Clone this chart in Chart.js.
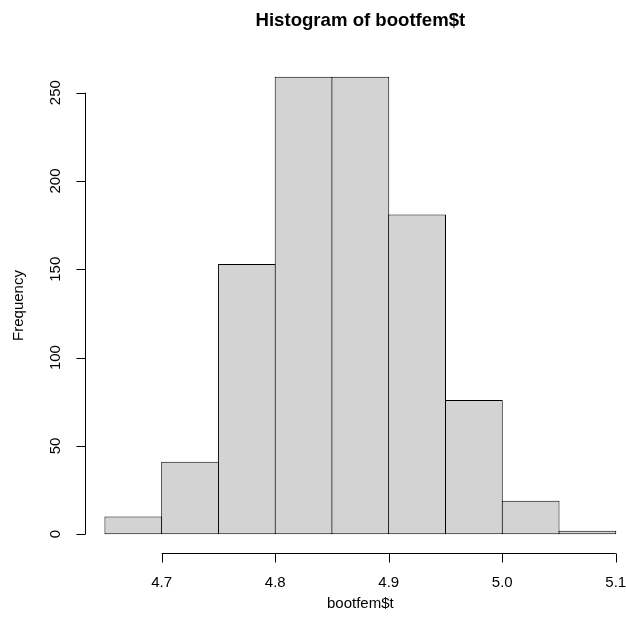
<!DOCTYPE html>
<html lang="en">
<head>
    <meta charset="UTF-8">
    <title>Histogram of bootfem$t</title>
    <script src="https://cdn.jsdelivr.net/npm/chart.js"></script>
    <style>
        html, body { margin: 0; padding: 0; background: #fff; }
        canvas { display: block; }
    </style>
</head>
<body>
    <canvas id="histChart" width="626" height="628"></canvas>

    <script>
        // bins of width 0.05 from 4.65 to 5.10
        var binStarts = [4.65, 4.70, 4.75, 4.80, 4.85, 4.90, 4.95, 5.00, 5.05];
        var binWidth = 0.05;
        var counts = [10, 41, 153, 259, 259, 181, 76, 19, 2];
        var xTicks = [4.7, 4.8, 4.9, 5.0, 5.1];
        var yTicks = [0, 50, 100, 150, 200, 250];

        var mainTitle = 'Histogram of bootfem$t';
        var xTitle = 'bootfem$t';
        var yTitle = 'Frequency';

        var points = binStarts.map(function (s, i) {
            return { x: s + binWidth / 2, y: counts[i] };
        });

        // R style axes, title and labels drawn from the chart scales
        var rAxes = {
            id: 'rAxes',
            afterDraw: function (chart) {
                var ctx = chart.ctx;
                var xs = chart.scales.x;
                var ys = chart.scales.y;
                var area = chart.chartArea;
                ctx.save();
                ctx.strokeStyle = '#000';
                ctx.fillStyle = '#000';
                ctx.lineWidth = 1;

                // x axis
                var xb = Math.round(area.bottom) + 0.5;
                ctx.beginPath();
                ctx.moveTo(xs.getPixelForValue(xTicks[0]), xb);
                ctx.lineTo(xs.getPixelForValue(xTicks[xTicks.length - 1]), xb);
                xTicks.forEach(function (t) {
                    var px = Math.round(xs.getPixelForValue(t)) + 0.5;
                    ctx.moveTo(px, xb);
                    ctx.lineTo(px, xb + 9);
                });
                ctx.stroke();
                ctx.font = '15px "Liberation Sans", Arial, sans-serif';
                ctx.textAlign = 'center';
                ctx.textBaseline = 'middle';
                xTicks.forEach(function (t) {
                    ctx.fillText(t.toFixed(1), xs.getPixelForValue(t), area.bottom + 30);
                });

                // y axis
                var yl = Math.round(area.left) + 0.5;
                ctx.beginPath();
                ctx.moveTo(yl, ys.getPixelForValue(yTicks[0]));
                ctx.lineTo(yl, ys.getPixelForValue(yTicks[yTicks.length - 1]));
                yTicks.forEach(function (t) {
                    var py = Math.round(ys.getPixelForValue(t)) + 0.5;
                    ctx.moveTo(yl, py);
                    ctx.lineTo(yl - 9, py);
                });
                ctx.stroke();
                yTicks.forEach(function (t) {
                    ctx.save();
                    ctx.translate(area.left - 29, ys.getPixelForValue(t));
                    ctx.rotate(-Math.PI / 2);
                    ctx.fillText(String(t), 0, 0);
                    ctx.restore();
                });

                // axis titles (centred on the full R plot region, which runs past the right edge)
                var midX = (xs.getPixelForValue(4.632) + xs.getPixelForValue(5.118)) / 2;
                ctx.fillText(xTitle, midX, area.bottom + 51);
                ctx.save();
                ctx.translate(19, (area.top + area.bottom) / 2);
                ctx.rotate(-Math.PI / 2);
                ctx.fillText(yTitle, 0, 0);
                ctx.restore();

                // main title
                ctx.font = 'bold 18.6px "Liberation Sans", Arial, sans-serif';
                ctx.textBaseline = 'alphabetic';
                ctx.fillText(mainTitle, midX, 26);
                ctx.restore();
            }
        };

        var config = {
            type: 'bar',
            data: {
                datasets: [{
                    data: points,
                    backgroundColor: '#D3D3D3',
                    borderColor: '#000',
                    borderWidth: 1,
                    borderSkipped: false,
                    // widen by ~1px so neighbouring borders fall on one line
                    barPercentage: 1.0176,
                    categoryPercentage: 1
                }]
            },
            options: {
                responsive: false,
                animation: false,
                devicePixelRatio: 1,
                layout: {
                    padding: { top: 58.5, bottom: 75.5, left: 84.5, right: 0 }
                },
                plugins: {
                    legend: { display: false },
                    tooltip: { enabled: false }
                },
                scales: {
                    x: { type: 'linear', offset: false, min: 4.632, max: 5.109, display: false },
                    y: { type: 'linear', min: -10.36, max: 269.36, display: false }
                }
            },
            plugins: [rAxes]
        };

        var ctx = document.getElementById('histChart').getContext('2d');
        var histChart = new Chart(ctx, config);
    </script>
</body>
</html>
